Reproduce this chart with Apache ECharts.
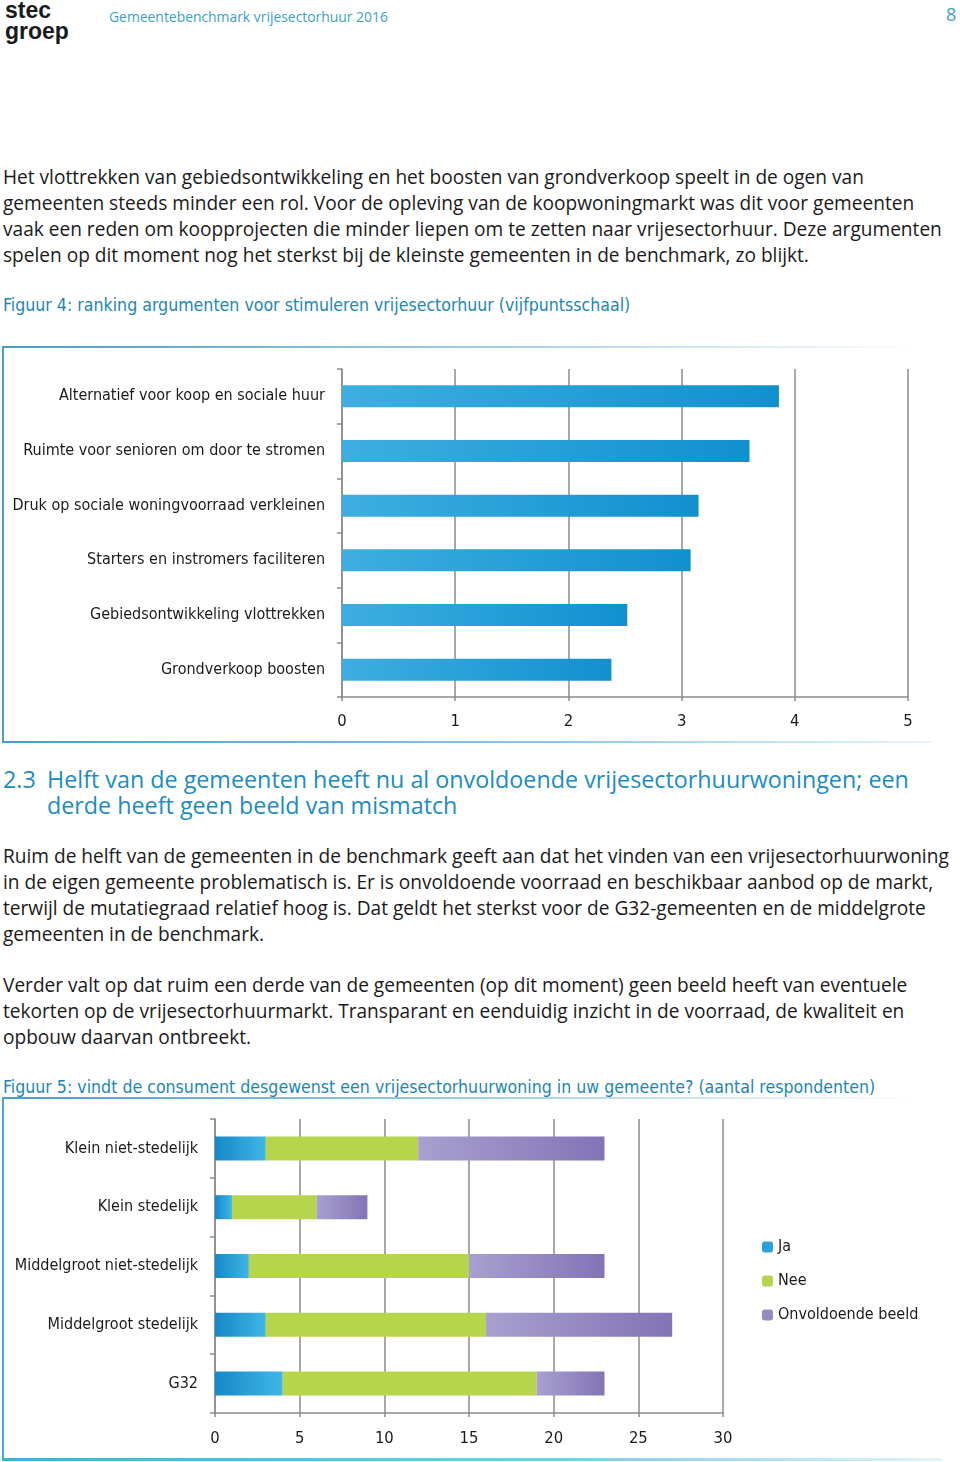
<!DOCTYPE html>
<html>
<head>
<meta charset="utf-8">
<script src="https://cdn.jsdelivr.net/npm/echarts@6/dist/echarts.min.js"></script>
<style>
html,body{margin:0;padding:0;background:#fff;}
body{width:960px;height:1462px;position:relative;overflow:hidden;font-family:"Open Sans","Liberation Sans",Arial,sans-serif;color:#1a1a1a;}
.abs{position:absolute;white-space:nowrap;}
.p{font-size:19.1px;line-height:26px;left:3px;}
.cap{font-family:"DejaVu Sans Condensed","Liberation Sans Narrow",sans-serif;font-size:17.6px;color:#1c86b8;left:3px;line-height:24px;}
.h{font-size:23.3px;line-height:26px;color:#1c8cc4;}
#c1,#c2{position:absolute;left:0;width:960px;}
.line{position:absolute;}
</style>
</head>
<body>
<div class="abs" style="left:5px;top:0px;font-family:'Liberation Sans',Arial,sans-serif;font-weight:bold;font-size:23px;line-height:21px;color:#1a1a1a;">stec<br>groep</div>
<div class="abs" style="left:109px;top:8px;font-size:13.9px;line-height:18px;color:#3a9fca;">Gemeentebenchmark vrijesectorhuur 2016</div>
<div class="abs" style="left:946px;top:3px;font-size:18px;line-height:22px;color:#3a9fca;">8</div>

<div class="abs p" style="top:164px;">Het vlottrekken van gebiedsontwikkeling en het boosten van grondverkoop speelt in de ogen van<br>gemeenten steeds minder een rol. Voor de opleving van de koopwoningmarkt was dit voor gemeenten<br>vaak een reden om koopprojecten die minder liepen om te zetten naar vrijesectorhuur. Deze argumenten<br>spelen op dit moment nog het sterkst bij de kleinste gemeenten in de benchmark, zo blijkt.</div>

<div class="abs cap" style="top:293px;">Figuur 4: ranking argumenten voor stimuleren vrijesectorhuur (vijfpuntsschaal)</div>

<div class="abs h" style="left:3px;top:766px;">2.3</div>
<div class="abs h" style="left:47px;top:766px;">Helft van de gemeenten heeft nu al onvoldoende vrijesectorhuurwoningen; een<br>derde heeft geen beeld van mismatch</div>

<div class="abs p" style="top:843px;">Ruim de helft van de gemeenten in de benchmark geeft aan dat het vinden van een vrijesectorhuurwoning<br>in de eigen gemeente problematisch is. Er is onvoldoende voorraad en beschikbaar aanbod op de markt,<br>terwijl de mutatiegraad relatief hoog is. Dat geldt het sterkst voor de G32-gemeenten en de middelgrote<br>gemeenten in de benchmark.</div>

<div class="abs p" style="top:972px;">Verder valt op dat ruim een derde van de gemeenten (op dit moment) geen beeld heeft van eventuele<br>tekorten op de vrijesectorhuurmarkt. Transparant en eenduidig inzicht in de voorraad, de kwaliteit en<br>opbouw daarvan ontbreekt.</div>

<div class="abs cap" style="top:1075px;">Figuur 5: vindt de consument desgewenst een vrijesectorhuurwoning in uw gemeente? (aantal respondenten)</div>

<!-- box 1 -->
<div class="line" style="left:2px;top:346px;width:920px;height:2px;background:linear-gradient(to right,#4a9ec2,#9ccbe0 50%,rgba(200,230,240,0));"></div>
<div class="line" style="left:2px;top:346px;width:2px;height:397px;background:#4a9ec2;"></div>
<div class="line" style="left:2px;top:741px;width:930px;height:2px;background:linear-gradient(to right,#4a9ec8,#8cc8e4 60%,rgba(180,225,240,0.3));"></div>
<!-- box 2 -->
<div class="line" style="left:2px;top:1097px;width:920px;height:2px;background:linear-gradient(to right,#4a9ec2,#9ccbe0 50%,rgba(200,230,240,0));"></div>
<div class="line" style="left:2px;top:1097px;width:2px;height:364px;background:#4aa8cc;"></div>
<div class="line" style="left:2px;top:1458px;width:940px;height:3px;background:linear-gradient(to right,#46acd6,#7ccbe8 60%,rgba(180,225,240,0.4));"></div>

<div id="c1" style="top:340px;height:410px;"></div>
<div id="c2" style="top:1090px;height:372px;"></div>

<script>
// Figure 4 data
var fig4Categories = ["Alternatief voor koop en sociale huur","Ruimte voor senioren om door te stromen","Druk op sociale woningvoorraad verkleinen","Starters en instromers faciliteren","Gebiedsontwikkeling vlottrekken","Grondverkoop boosten"];
var fig4Values = [3.86, 3.60, 3.15, 3.08, 2.52, 2.38];

// Figure 5 data
var fig5Categories = ["Klein niet-stedelijk","Klein stedelijk","Middelgroot niet-stedelijk","Middelgroot stedelijk","G32"];
var fig5Ja = [3, 1, 2, 3, 4];
var fig5Nee = [9, 5, 13, 13, 15];
var fig5Onvoldoende = [11, 3, 8, 11, 4];
var fig5SeriesNames = ["Ja","Nee","Onvoldoende beeld"];

var narrow = '"DejaVu Sans Condensed","Liberation Sans Narrow",sans-serif';
var gridGray = '#8c8c8c';

function lg(c0, c1){
  return new echarts.graphic.LinearGradient(0,0,1,0,[{offset:0,color:c0},{offset:1,color:c1}]);
}

var c1 = echarts.init(document.getElementById('c1'));
c1.setOption({
  animation:false,
  grid:{left:342,right:52,top:29,bottom:53,containLabel:false,outerBoundsMode:'none'},
  xAxis:{type:'value',min:0,max:5,interval:1,
    axisLine:{show:true,lineStyle:{color:gridGray,width:1.5}},
    axisTick:{show:true,length:4,lineStyle:{color:gridGray,width:1.5}},
    splitLine:{show:true,lineStyle:{color:gridGray,width:1.5}},
    axisLabel:{color:'#1a1a1a',fontFamily:narrow,fontSize:16.5,margin:16}
  },
  yAxis:{type:'category',data:fig4Categories,inverse:true,
    axisLine:{show:true,lineStyle:{color:gridGray,width:1.5}},
    axisTick:{show:true,length:5,lineStyle:{color:gridGray,width:1.5}},
    axisLabel:{color:'#1a1a1a',fontFamily:narrow,fontSize:16,margin:17}
  },
  series:[{type:'bar',data:fig4Values,barWidth:22,
    itemStyle:{color:lg('#3eaee0','#1190cf')}
  }]
});

var c2 = echarts.init(document.getElementById('c2'));
c2.setOption({
  animation:false,
  grid:{left:215,right:237,top:29,bottom:49,containLabel:false,outerBoundsMode:'none'},
  legend:{orient:'vertical',left:757,top:144,itemWidth:11,itemHeight:11,itemGap:18,
    textStyle:{color:'#1a1a1a',fontFamily:narrow,fontSize:16},
    data:[
      {name:fig5SeriesNames[0],itemStyle:{color:'#2ba0da'}},
      {name:fig5SeriesNames[1],itemStyle:{color:'#b7d54c'}},
      {name:fig5SeriesNames[2],itemStyle:{color:'#958cc4'}}
    ]
  },
  xAxis:{type:'value',min:0,max:30,interval:5,
    axisLine:{show:true,lineStyle:{color:gridGray,width:1.5}},
    axisTick:{show:true,length:4,lineStyle:{color:gridGray,width:1.5}},
    splitLine:{show:true,lineStyle:{color:gridGray,width:1.5}},
    axisLabel:{color:'#1a1a1a',fontFamily:narrow,fontSize:16.5,margin:17}
  },
  yAxis:{type:'category',data:fig5Categories,inverse:true,
    axisLine:{show:true,lineStyle:{color:gridGray,width:1.5}},
    axisTick:{show:true,length:5,lineStyle:{color:gridGray,width:1.5}},
    axisLabel:{color:'#1a1a1a',fontFamily:narrow,fontSize:16,margin:17}
  },
  series:[
    {name:fig5SeriesNames[0],type:'bar',stack:'s',data:fig5Ja,barWidth:24,itemStyle:{color:lg('#1688c8','#40b6e6')}},
    {name:fig5SeriesNames[1],type:'bar',stack:'s',data:fig5Nee,barWidth:24,itemStyle:{color:'#b7d54c'}},
    {name:fig5SeriesNames[2],type:'bar',stack:'s',data:fig5Onvoldoende,barWidth:24,itemStyle:{color:lg('#a8a0cf','#8373b6')}}
  ]
});
</script>
</body>
</html>
